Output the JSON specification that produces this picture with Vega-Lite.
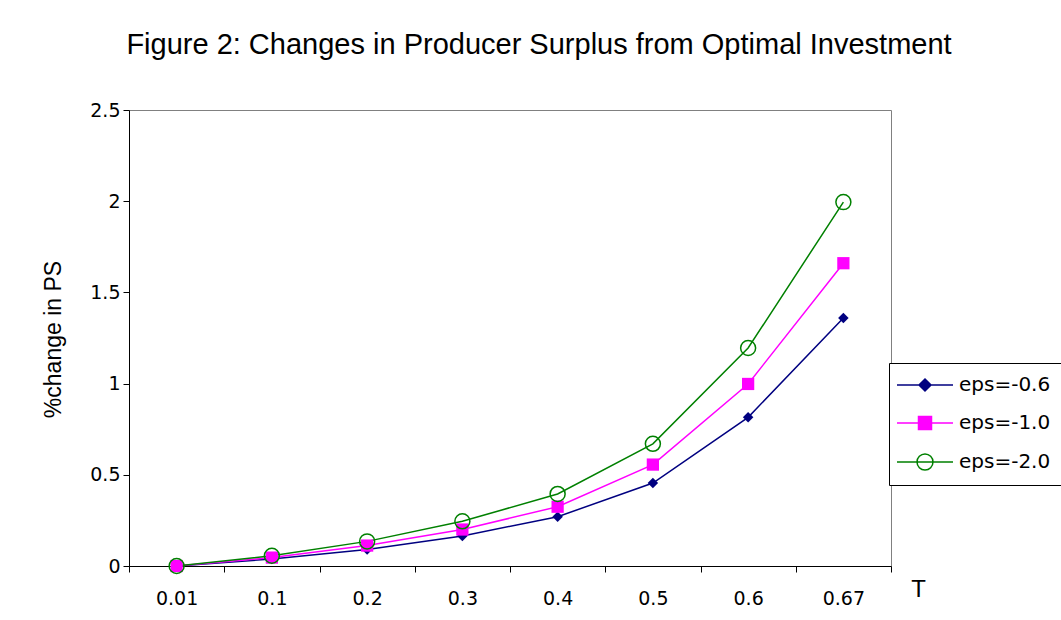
{
  "$schema": "https://vega.github.io/schema/vega-lite/v6.json",
  "width": 762,
  "height": 456,
  "autosize": {"type": "none"},
  "padding": {"left": 129, "top": 110, "right": 170, "bottom": 54},
  "background": "white",
  "config": {
    "font": "Liberation Sans",
    "view": {"stroke": "#808080", "strokeWidth": 1}
  },
  "title": {
    "text": "Figure 2: Changes in Producer Surplus from Optimal Investment",
    "fontSize": 29,
    "fontWeight": "normal",
    "font": "Liberation Sans",
    "color": "black",
    "dx": 29,
    "offset": 41
  },
  "data": {
    "values": [
      {"T": "0.01", "series": "eps=-0.6", "value": 0},
      {"T": "0.1", "series": "eps=-0.6", "value": 0.038},
      {"T": "0.2", "series": "eps=-0.6", "value": 0.09},
      {"T": "0.3", "series": "eps=-0.6", "value": 0.165},
      {"T": "0.4", "series": "eps=-0.6", "value": 0.27},
      {"T": "0.5", "series": "eps=-0.6", "value": 0.455},
      {"T": "0.6", "series": "eps=-0.6", "value": 0.815},
      {"T": "0.67", "series": "eps=-0.6", "value": 1.36},
      {"T": "0.01", "series": "eps=-1.0", "value": 0},
      {"T": "0.1", "series": "eps=-1.0", "value": 0.046},
      {"T": "0.2", "series": "eps=-1.0", "value": 0.112},
      {"T": "0.3", "series": "eps=-1.0", "value": 0.2},
      {"T": "0.4", "series": "eps=-1.0", "value": 0.325},
      {"T": "0.5", "series": "eps=-1.0", "value": 0.556},
      {"T": "0.6", "series": "eps=-1.0", "value": 0.998},
      {"T": "0.67", "series": "eps=-1.0", "value": 1.66},
      {"T": "0.01", "series": "eps=-2.0", "value": 0},
      {"T": "0.1", "series": "eps=-2.0", "value": 0.056},
      {"T": "0.2", "series": "eps=-2.0", "value": 0.135},
      {"T": "0.3", "series": "eps=-2.0", "value": 0.245},
      {"T": "0.4", "series": "eps=-2.0", "value": 0.395},
      {"T": "0.5", "series": "eps=-2.0", "value": 0.67},
      {"T": "0.6", "series": "eps=-2.0", "value": 1.195},
      {"T": "0.67", "series": "eps=-2.0", "value": 1.995}
    ]
  },
  "encoding": {
    "x": {
      "field": "T",
      "type": "ordinal",
      "sort": ["0.01", "0.1", "0.2", "0.3", "0.4", "0.5", "0.6", "0.67"],
      "bandPosition": 0.5,
      "scale": {"type": "band", "paddingInner": 0, "paddingOuter": 0},
      "axis": {
        "title": "T",
        "titleFontSize": 24,
        "titleFontWeight": "normal",
        "titleColor": "black",
        "titleX": 789,
        "titleY": 30,
        "titleAlign": "center",
        "titleBaseline": "alphabetic",
        "labelAngle": 0,
        "labelFont": "DejaVu Sans",
        "labelFontSize": 19,
        "labelColor": "black",
        "labelBaseline": "alphabetic",
        "labelPadding": 32,
        "tickBand": "extent",
        "tickSize": 6,
        "tickColor": "black",
        "domainColor": "black",
        "grid": false
      }
    },
    "y": {
      "field": "value",
      "type": "quantitative",
      "scale": {"domain": [0, 2.5], "nice": false},
      "axis": {
        "title": "%change in PS",
        "titleFontSize": 23,
        "titleFontWeight": "normal",
        "titleColor": "black",
        "titleX": -69,
        "titleY": 229,
        "titleAlign": "center",
        "titleBaseline": "alphabetic",
        "values": [0, 0.5, 1, 1.5, 2, 2.5],
        "format": "~g",
        "labelFont": "DejaVu Sans",
        "labelFontSize": 19,
        "labelColor": "black",
        "labelPadding": 3,
        "tickSize": 6,
        "tickColor": "black",
        "domainColor": "black",
        "grid": false
      }
    }
  },
  "layer": [
    {
      "mark": {"type": "line", "strokeWidth": 1.5},
      "encoding": {
        "color": {
          "field": "series",
          "type": "nominal",
          "scale": {"domain": ["eps=-0.6", "eps=-1.0", "eps=-2.0"], "range": ["#000080", "#FF00FF", "#008000"]},
          "legend": {
            "orient": "none",
            "legendX": 760,
            "legendY": 253,
            "title": null,
            "strokeColor": "black",
            "fillColor": "white",
            "padding": 12,
            "symbolSize": 100,
            "symbolStrokeWidth": 1.5,
            "symbolOffset": 14,
            "labelOffset": 24,
            "rowPadding": 18,
            "labelFontSize": 20,
            "labelFont": "DejaVu Sans",
            "labelColor": "black",
            "encode": {
              "symbols": {
                "update": {
                  "shape": {"signal": "datum.value === 'eps=-0.6' ? 'M-5.6,0L5.6,0M0,-1.2L1.2,0L0,1.2L-1.2,0Z' : datum.value === 'eps=-1.0' ? 'M-5.6,0L5.6,0M-1.3,-1.3L1.3,-1.3L1.3,1.3L-1.3,1.3Z' : 'M-5.6,0L5.6,0M-1.6,0A1.6,1.6 0 1,0 1.6,0A1.6,1.6 0 1,0 -1.6,0Z'"},
                  "fill": {"signal": "datum.value === 'eps=-2.0' ? 'transparent' : scale('color', datum.value)"},
                  "stroke": {"signal": "scale('color', datum.value)"}
                }
              }
            }
          }
        }
      }
    },
    {
      "transform": [{"filter": "datum.series === 'eps=-0.6'"}],
      "mark": {"type": "point", "shape": "diamond", "size": 110, "filled": true, "color": "#000080", "opacity": 1}
    },
    {
      "transform": [{"filter": "datum.series === 'eps=-1.0'"}],
      "mark": {"type": "point", "shape": "square", "size": 150, "filled": true, "color": "#FF00FF", "opacity": 1}
    },
    {
      "transform": [{"filter": "datum.series === 'eps=-2.0'"}],
      "mark": {"type": "point", "shape": "circle", "size": 225, "filled": false, "stroke": "#008000", "strokeWidth": 1.5, "fill": "transparent", "opacity": 1}
    }
  ]
}
